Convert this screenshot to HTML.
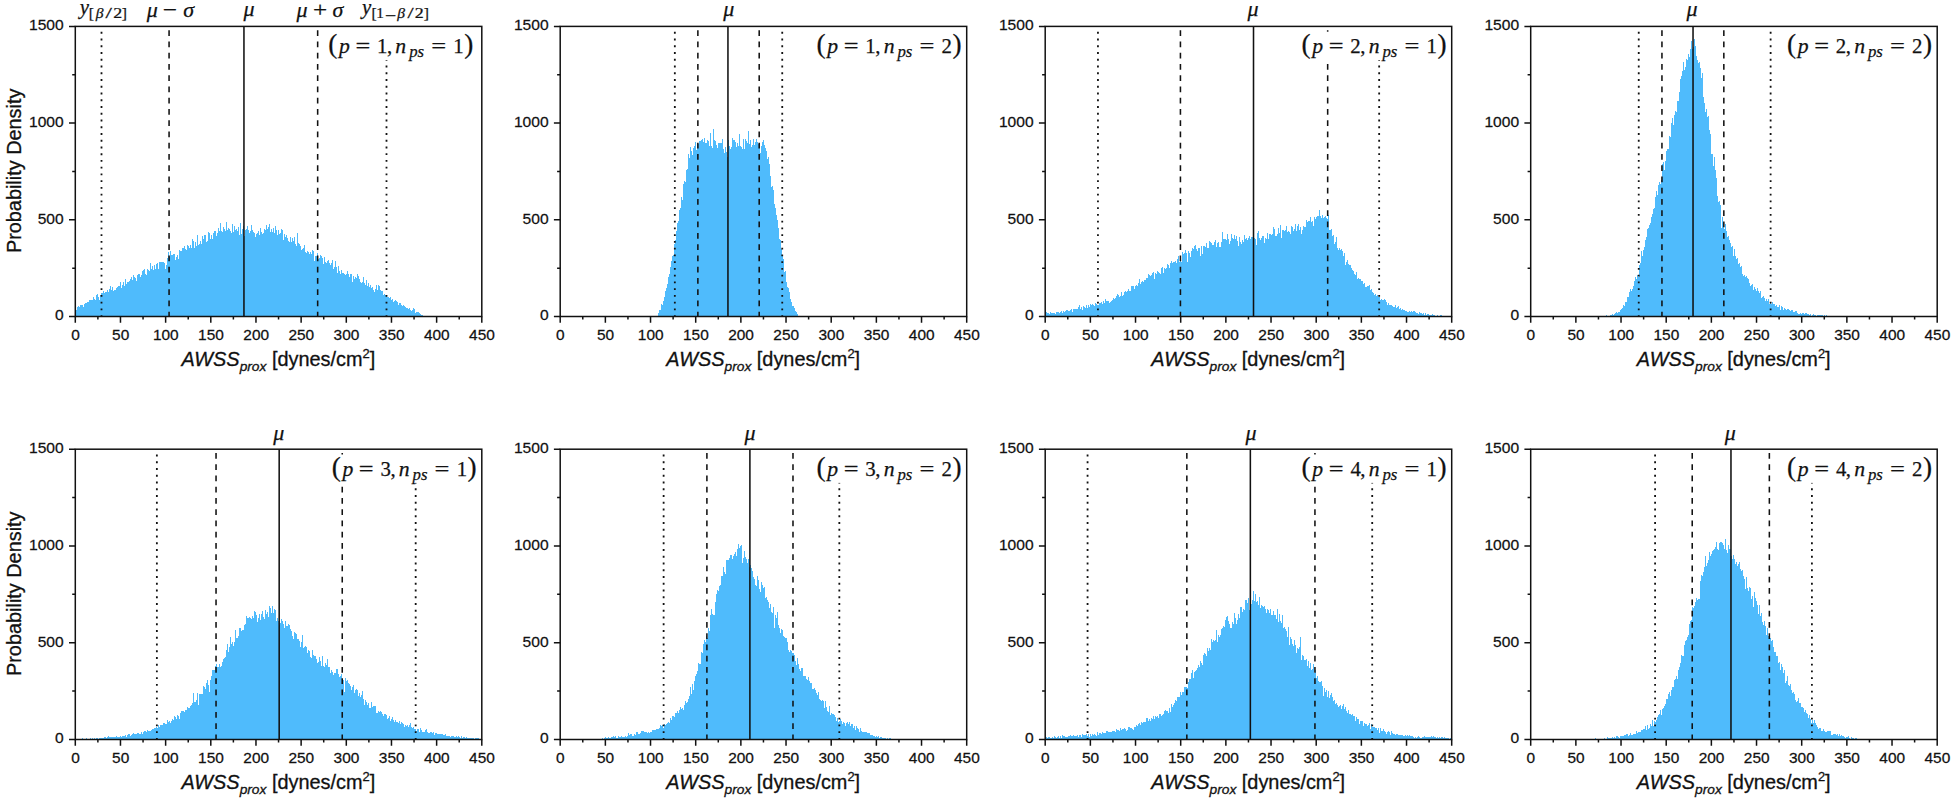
<!DOCTYPE html>
<html lang="en"><head><meta charset="utf-8"><title>AWSS probability density histograms</title>
<style>
html,body{margin:0;padding:0;background:#fff;}
body{width:1955px;height:803px;overflow:hidden;}
svg{display:block;}
text{fill:#111;}
.tk{font-family:"Liberation Sans",sans-serif;font-size:15.3px;stroke:#111;stroke-width:0.25px;}
.al{font-family:"Liberation Sans",sans-serif;font-size:19.8px;stroke:#111;stroke-width:0.3px;}
.mi{font-family:"Liberation Serif","DejaVu Serif",serif;font-style:italic;stroke:#111;stroke-width:0.25px;}
.mr{font-family:"Liberation Serif","DejaVu Serif",serif;font-style:normal;stroke:#111;stroke-width:0.25px;}
.ax{stroke:#111;stroke-width:1.5;fill:none;}
.ln{stroke:#111;stroke-width:1.55;fill:none;}
.dt{stroke:#111;stroke-width:1.8;fill:none;stroke-dasharray:1.9 4.846;}
.ds{stroke:#111;stroke-width:1.55;fill:none;stroke-dasharray:5.75 5.51;}
</style></head><body>
<svg width="1955" height="803" viewBox="0 0 1955 803">
<rect width="1955" height="803" fill="#fff"/>
<g>
<path d="M76 316.5V310.1H77V307.4H78V305.9H79V306.9H80V305.0H81V304.9H82V304.7H83V307.3H84V304.1H85V303.0H86V303.4H87V301.6H88V302.4H89V300.0H90V299.6H91V300.1H92V300.2H93V297.4H94V299.0H95V299.5H96V294.7H97V294.2H98V296.5H99V299.9H100V294.7H101V292.9H102V292.7H103V291.1H104V293.4H105V292.3H106V291.5H107V290.2H108V292.2H109V288.8H110V286.1H111V290.1H112V286.5H113V291.4H114V290.3H115V289.5H116V287.7H117V287.4H118V285.6H119V286.3H120V282.0H121V287.5H122V285.4H123V282.1H124V285.6H125V278.7H126V283.7H127V281.8H128V282.0H129V281.3H130V278.7H131V277.2H132V279.7H133V274.5H134V276.8H135V278.1H136V280.6H137V274.9H138V273.9H139V273.8H140V277.0H141V275.1H142V270.7H143V269.9H144V268.7H145V274.1H146V274.6H147V268.8H148V270.1H149V270.5H150V263.3H151V269.2H152V265.5H153V270.1H154V265.0H155V268.7H156V263.8H157V263.3H158V268.5H159V261.8H160V261.6H161V262.0H162V262.4H163V262.1H164V263.2H165V268.8H166V264.6H167V257.8H168V252.4H169V257.4H170V250.8H171V255.2H172V254.8H173V254.0H174V253.9H175V259.8H176V257.0H177V254.8H178V259.4H179V250.3H180V250.5H181V250.5H182V248.2H183V247.9H184V246.4H185V249.0H186V250.0H187V245.3H188V246.3H189V248.1H190V245.2H191V247.5H192V238.5H193V240.7H194V248.3H195V242.4H196V246.2H197V234.8H198V244.9H199V243.6H200V240.5H201V243.8H202V236.0H203V238.5H204V235.2H205V235.2H206V241.8H207V240.5H208V232.2H209V232.8H210V239.3H211V235.3H212V239.0H213V233.3H214V230.6H215V231.0H216V236.3H217V233.2H218V227.9H219V231.3H220V222.9H221V230.8H222V231.6H223V227.1H224V229.0H225V230.7H226V222.0H227V230.1H228V228.0H229V228.6H230V230.6H231V233.3H232V223.9H233V231.8H234V225.8H235V230.1H236V229.4H237V231.1H238V226.8H239V234.5H240V222.8H241V233.9H242V228.7H243V226.0H244V236.0H245V229.9H246V228.9H247V225.7H248V229.6H249V232.8H250V231.3H251V224.6H252V229.6H253V231.6H254V233.2H255V236.5H256V233.8H257V232.7H258V230.5H259V235.3H260V227.6H261V232.2H262V233.6H263V233.1H264V228.7H265V229.5H266V225.0H267V229.0H268V226.8H269V223.7H270V232.1H271V228.6H272V231.5H273V227.7H274V233.1H275V226.2H276V229.5H277V234.6H278V229.9H279V233.7H280V232.5H281V229.2H282V229.6H283V240.1H284V234.2H285V236.7H286V234.6H287V237.9H288V240.7H289V242.3H290V237.2H291V241.6H292V238.3H293V240.8H294V237.3H295V243.5H296V246.0H297V232.8H298V242.8H299V243.7H300V246.4H301V250.3H302V248.6H303V247.8H304V245.3H305V251.6H306V252.5H307V250.7H308V252.3H309V254.1H310V251.7H311V254.3H312V250.1H313V251.3H314V260.8H315V256.1H316V256.2H317V253.1H318V258.7H319V258.4H320V255.2H321V255.8H322V257.6H323V263.5H324V256.7H325V261.8H326V262.9H327V261.4H328V259.5H329V263.2H330V264.5H331V262.9H332V259.9H333V268.6H334V266.6H335V261.2H336V267.1H337V273.3H338V266.3H339V271.0H340V273.6H341V269.7H342V272.5H343V273.4H344V274.3H345V274.5H346V274.2H347V271.2H348V274.3H349V276.7H350V273.8H351V274.1H352V281.7H353V275.8H354V278.6H355V277.4H356V277.9H357V273.5H358V275.5H359V278.7H360V282.0H361V282.9H362V282.0H363V277.3H364V283.1H365V284.8H366V280.3H367V286.1H368V282.9H369V287.4H370V285.3H371V288.0H372V286.8H373V289.5H374V291.8H375V288.7H376V284.8H377V290.4H378V285.3H379V285.8H380V289.5H381V291.2H382V290.5H383V294.9H384V294.2H385V295.4H386V295.3H387V296.7H388V296.8H389V298.1H390V296.9H391V299.5H392V299.4H393V301.7H394V300.9H395V299.9H396V300.7H397V302.3H398V304.7H399V303.3H400V302.6H401V305.2H402V306.4H403V305.2H404V305.6H405V306.6H406V307.5H407V308.0H408V308.8H409V308.0H410V310.2H411V310.9H412V309.6H413V308.4H414V308.5H415V312.9H416V311.5H417V312.0H418V312.3H419V312.8H420V314.2H421V314.7H422V315.2H423V315.6H424V316.5H425V316.5H426V316.5H427V316.5H428V316.5H429V316.5H430V316.5H431V316.5H432V316.5H433V316.5H434V316.5H435V316.5H436V316.5H437V316.5H438V316.5H439V316.5H440V316.5H441V316.5H442V316.5H443V316.5H444V316.5H445V316.5H446V316.5H447V316.5H448V316.5H449V316.5H450V316.5H451V316.5H452V316.5H453V316.5H454V316.5H455V316.5H456V316.5H457V316.5H458V316.5H459V316.5H460V316.5H461V316.5H462V316.5H463V316.5H464V316.5H465V316.5H466V316.5H467V316.5H468V316.5H469V316.5H470V316.5H471V316.5H472V316.5H473V316.5H474V316.5H475V316.5H476V316.5H477V316.5H478V316.5H479V316.5H480V316.5H481V316.5Z" fill="#4fbbfc" shape-rendering="crispEdges"/>
<path class="dt" d="M101.5 31.8V316.5"/>
<path class="dt" d="M386.5 58.78V316.5"/>
<path class="ds" d="M169.07 30.2V316.5"/>
<path class="ds" d="M317.66 30.2V316.5"/>
<path class="ln" d="M243.95 26.4V316.5"/>
<rect x="328" y="31.7" width="146.2" height="28.4" fill="#fff"/>
<rect class="ax" x="75.3" y="26.4" width="406.5" height="290.1"/>
<path class="ax" d="M75.3 316.5v6.3M97.88 316.5v3.1M120.47 316.5v6.3M143.05 316.5v3.1M165.63 316.5v6.3M188.22 316.5v3.1M210.8 316.5v6.3M233.38 316.5v3.1M255.97 316.5v6.3M278.55 316.5v3.1M301.13 316.5v6.3M323.72 316.5v3.1M346.3 316.5v6.3M368.88 316.5v3.1M391.47 316.5v6.3M414.05 316.5v3.1M436.63 316.5v6.3M459.22 316.5v3.1M481.8 316.5v6.3M75.3 316.5h-6.3M75.3 268.15h-3.1M75.3 219.8h-6.3M75.3 171.45h-3.1M75.3 123.1h-6.3M75.3 74.75h-3.1M75.3 26.4h-6.3"/>
<text class="tk" transform="translate(75.5 339.6) scale(1.01 1)" text-anchor="middle">0</text>
<text class="tk" transform="translate(120.67 339.6) scale(1.01 1)" text-anchor="middle">50</text>
<text class="tk" transform="translate(165.83 339.6) scale(1.01 1)" text-anchor="middle">100</text>
<text class="tk" transform="translate(211 339.6) scale(1.01 1)" text-anchor="middle">150</text>
<text class="tk" transform="translate(256.17 339.6) scale(1.01 1)" text-anchor="middle">200</text>
<text class="tk" transform="translate(301.33 339.6) scale(1.01 1)" text-anchor="middle">250</text>
<text class="tk" transform="translate(346.5 339.6) scale(1.01 1)" text-anchor="middle">300</text>
<text class="tk" transform="translate(391.67 339.6) scale(1.01 1)" text-anchor="middle">350</text>
<text class="tk" transform="translate(436.83 339.6) scale(1.01 1)" text-anchor="middle">400</text>
<text class="tk" transform="translate(482 339.6) scale(1.01 1)" text-anchor="middle">450</text>
<text class="tk" transform="translate(63.7 320.3) scale(1.02 1)" text-anchor="end">0</text>
<text class="tk" transform="translate(63.7 223.6) scale(1.02 1)" text-anchor="end">500</text>
<text class="tk" transform="translate(63.7 126.9) scale(1.02 1)" text-anchor="end">1000</text>
<text class="tk" transform="translate(63.7 30.2) scale(1.02 1)" text-anchor="end">1500</text>
<text class="al" transform="translate(278.35 365.6) scale(1.005 1)" text-anchor="middle"><tspan font-style="italic">AWSS</tspan><tspan font-style="italic" font-size="13.7" dy="5">prox</tspan><tspan dy="-5"> [dynes/cm</tspan><tspan font-size="12.9" dy="-8">2</tspan><tspan dy="8">]</tspan></text>
<text class="al" transform="translate(21.4 170.85) rotate(-90) scale(1.004 1)" text-anchor="middle">Probability Density</text>
<text class="mi" font-size="22" x="243.6" y="16.3">μ</text>
<text class="mi" font-size="20.8" x="79.74" y="13.7">y</text>
<text class="mr" font-size="15.6" x="88.64" y="18.3">[</text>
<text class="mi" font-size="15.6" x="95.65" y="18.3">β</text>
<text class="mr" font-size="15.6" transform="translate(105.6 18.3) scale(1.48 1)">/</text>
<text class="mr" font-size="15.6" transform="translate(113.21 18.3) scale(1.15 1)">2</text>
<text class="mr" font-size="15.6" x="121.84" y="18.3">]</text>
<text class="mi" font-size="22" x="146.72" y="16.5">μ</text>
<text class="mr" font-size="22" transform="translate(162.84 16.5) scale(1.15 1)">−</text>
<text class="mi" font-size="22" x="183.14" y="16.5">σ</text>
<text class="mi" font-size="22" x="296.42" y="16.5">μ</text>
<text class="mr" font-size="22" transform="translate(313.05 16.5) scale(1.14 1)">+</text>
<text class="mi" font-size="22" x="332.54" y="16.5">σ</text>
<text class="mi" font-size="20.8" x="362.04" y="13.7">y</text>
<text class="mr" font-size="15.6" x="371.44" y="18.3">[</text>
<text class="mr" font-size="15.6" transform="translate(376.25 18.3) scale(0.98 1)">1</text>
<text class="mr" font-size="15.6" transform="translate(384.92 20.5) scale(1.27 1)">−</text>
<text class="mi" font-size="15.6" x="397.35" y="18.3">β</text>
<text class="mr" font-size="15.6" transform="translate(407.4 18.3) scale(1.41 1)">/</text>
<text class="mr" font-size="15.6" transform="translate(414.71 18.3) scale(1.15 1)">2</text>
<text class="mr" font-size="15.6" x="423.84" y="18.3">]</text>
<text class="mr" font-size="27.3" x="328.3" y="53.1">(</text>
<text class="mi" font-size="21.7" x="339.07" y="53.1">p</text>
<text class="mr" font-size="21.7" transform="translate(355.39 53.1) scale(1.21 1)">=</text>
<text class="mr" font-size="20.8" x="376.97" y="53.1">1</text>
<text class="mr" font-size="20.8" x="387.01" y="53.1">,</text>
<text class="mi" font-size="21.7" x="395.33" y="53.1">n</text>
<text class="mi" font-size="16.8" x="409.18" y="56.5">ps</text>
<text class="mr" font-size="21.7" transform="translate(431.18 53.1) scale(1.22 1)">=</text>
<text class="mr" font-size="20.8" x="453.27" y="53.1">1</text>
<text class="mr" font-size="27.3" x="464.22" y="53.1">)</text>
</g>
<g>
<path d="M657 316.5V315.9H658V313.4H659V310.0H660V309.6H661V304.4H662V304.5H663V301.1H664V297.2H665V290.9H666V287.8H667V284.4H668V277.4H669V274.4H670V266.7H671V260.5H672V256.0H673V254.9H674V244.0H675V239.8H676V230.7H677V223.3H678V220.9H679V209.9H680V208.4H681V196.9H682V199.5H683V184.4H684V180.9H685V182.3H686V169.8H687V169.1H688V154.0H689V157.8H690V146.9H691V150.9H692V155.0H693V147.9H694V146.4H695V142.1H696V150.2H697V143.1H698V143.8H699V140.5H700V140.7H701V140.1H702V138.7H703V142.2H704V138.3H705V143.0H706V143.1H707V140.1H708V140.7H709V145.5H710V132.5H711V145.7H712V148.0H713V128.6H714V139.9H715V140.5H716V144.8H717V148.0H718V143.4H719V143.1H720V143.3H721V143.4H722V139.1H723V149.0H724V152.7H725V146.9H726V152.3H727V156.9H728V139.8H729V145.5H730V148.6H731V147.0H732V137.7H733V139.6H734V139.9H735V141.6H736V146.7H737V142.9H738V146.1H739V134.0H740V146.4H741V147.4H742V148.6H743V138.7H744V148.6H745V139.3H746V140.6H747V142.5H748V131.4H749V143.7H750V139.5H751V146.7H752V145.0H753V138.8H754V145.1H755V142.2H756V139.4H757V142.0H758V144.1H759V142.8H760V152.5H761V146.0H762V141.5H763V139.7H764V144.9H765V148.0H766V150.6H767V159.3H768V157.2H769V163.5H770V176.1H771V186.9H772V185.6H773V189.5H774V203.5H775V208.3H776V215.2H777V220.1H778V228.1H779V238.9H780V239.6H781V249.3H782V254.6H783V258.5H784V271.5H785V271.1H786V281.6H787V286.6H788V288.1H789V291.8H790V298.5H791V302.2H792V306.1H793V306.4H794V307.8H795V310.8H796V312.2H797V314.2H798V316.2H799V316.5H800V316.5H801V316.5H802V316.5H803V316.5H804V316.5H805V316.5H806V316.5H807V316.5H808V316.5H809V316.5H810V316.5H811V316.5H812V316.5H813V316.5H814V316.5H815V316.5H816V316.5H817V316.5H818V316.5H819V316.5H820V316.5H821V316.5H822V316.5H823V316.5H824V316.5H825V316.5H826V316.5H827V316.5H828V316.5H829V316.5H830V316.5H831V316.5H832V316.5H833V316.5H834V316.5H835V316.5H836V316.5H837V316.5H838V316.5H839V316.5H840V316.5H841V316.5H842V316.5H843V316.5H844V316.5H845V316.5H846V316.5H847V316.5H848V316.5H849V316.5H850V316.5H851V316.5H852V316.5H853V316.5H854V316.5H855V316.5H856V316.5H857V316.5H858V316.5H859V316.5H860V316.5H861V316.5H862V316.5H863V316.5H864V316.5H865V316.5H866V316.5H867V316.5H868V316.5H869V316.5H870V316.5H871V316.5H872V316.5H873V316.5H874V316.5H875V316.5H876V316.5H877V316.5H878V316.5H879V316.5H880V316.5H881V316.5H882V316.5H883V316.5H884V316.5H885V316.5H886V316.5H887V316.5H888V316.5H889V316.5H890V316.5H891V316.5H892V316.5H893V316.5H894V316.5H895V316.5H896V316.5H897V316.5H898V316.5H899V316.5H900V316.5H901V316.5H902V316.5H903V316.5H904V316.5H905V316.5H906V316.5H907V316.5H908V316.5H909V316.5H910V316.5H911V316.5H912V316.5H913V316.5H914V316.5H915V316.5H916V316.5H917V316.5H918V316.5H919V316.5H920V316.5H921V316.5H922V316.5H923V316.5H924V316.5H925V316.5H926V316.5H927V316.5H928V316.5H929V316.5H930V316.5H931V316.5H932V316.5H933V316.5H934V316.5H935V316.5H936V316.5H937V316.5H938V316.5H939V316.5H940V316.5H941V316.5H942V316.5H943V316.5H944V316.5H945V316.5H946V316.5H947V316.5H948V316.5H949V316.5H950V316.5H951V316.5H952V316.5H953V316.5H954V316.5H955V316.5H956V316.5H957V316.5H958V316.5H959V316.5H960V316.5H961V316.5H962V316.5H963V316.5H964V316.5H965V316.5H966V316.5Z" fill="#4fbbfc" shape-rendering="crispEdges"/>
<path class="dt" d="M674.83 31.8V316.5"/>
<path class="dt" d="M782.24 31.8V316.5"/>
<path class="ds" d="M697.87 30.2V316.5"/>
<path class="ds" d="M759.2 30.2V316.5"/>
<path class="ln" d="M727.95 26.4V316.5"/>
<rect x="816.3" y="31.7" width="146.2" height="28.4" fill="#fff"/>
<rect class="ax" x="560.2" y="26.4" width="406.5" height="290.1"/>
<path class="ax" d="M560.2 316.5v6.3M582.78 316.5v3.1M605.37 316.5v6.3M627.95 316.5v3.1M650.53 316.5v6.3M673.12 316.5v3.1M695.7 316.5v6.3M718.28 316.5v3.1M740.87 316.5v6.3M763.45 316.5v3.1M786.03 316.5v6.3M808.62 316.5v3.1M831.2 316.5v6.3M853.78 316.5v3.1M876.37 316.5v6.3M898.95 316.5v3.1M921.53 316.5v6.3M944.12 316.5v3.1M966.7 316.5v6.3M560.2 316.5h-6.3M560.2 268.15h-3.1M560.2 219.8h-6.3M560.2 171.45h-3.1M560.2 123.1h-6.3M560.2 74.75h-3.1M560.2 26.4h-6.3"/>
<text class="tk" transform="translate(560.4 339.6) scale(1.01 1)" text-anchor="middle">0</text>
<text class="tk" transform="translate(605.57 339.6) scale(1.01 1)" text-anchor="middle">50</text>
<text class="tk" transform="translate(650.73 339.6) scale(1.01 1)" text-anchor="middle">100</text>
<text class="tk" transform="translate(695.9 339.6) scale(1.01 1)" text-anchor="middle">150</text>
<text class="tk" transform="translate(741.07 339.6) scale(1.01 1)" text-anchor="middle">200</text>
<text class="tk" transform="translate(786.23 339.6) scale(1.01 1)" text-anchor="middle">250</text>
<text class="tk" transform="translate(831.4 339.6) scale(1.01 1)" text-anchor="middle">300</text>
<text class="tk" transform="translate(876.57 339.6) scale(1.01 1)" text-anchor="middle">350</text>
<text class="tk" transform="translate(921.73 339.6) scale(1.01 1)" text-anchor="middle">400</text>
<text class="tk" transform="translate(966.9 339.6) scale(1.01 1)" text-anchor="middle">450</text>
<text class="tk" transform="translate(548.6 320.3) scale(1.02 1)" text-anchor="end">0</text>
<text class="tk" transform="translate(548.6 223.6) scale(1.02 1)" text-anchor="end">500</text>
<text class="tk" transform="translate(548.6 126.9) scale(1.02 1)" text-anchor="end">1000</text>
<text class="tk" transform="translate(548.6 30.2) scale(1.02 1)" text-anchor="end">1500</text>
<text class="al" transform="translate(763.25 365.6) scale(1.005 1)" text-anchor="middle"><tspan font-style="italic">AWSS</tspan><tspan font-style="italic" font-size="13.7" dy="5">prox</tspan><tspan dy="-5"> [dynes/cm</tspan><tspan font-size="12.9" dy="-8">2</tspan><tspan dy="8">]</tspan></text>
<text class="mi" font-size="22" x="723.35" y="16.3">μ</text>
<text class="mr" font-size="27.3" x="816.6" y="53.1">(</text>
<text class="mi" font-size="21.7" x="827.37" y="53.1">p</text>
<text class="mr" font-size="21.7" transform="translate(843.69 53.1) scale(1.21 1)">=</text>
<text class="mr" font-size="20.8" x="865.27" y="53.1">1</text>
<text class="mr" font-size="20.8" x="875.31" y="53.1">,</text>
<text class="mi" font-size="21.7" x="883.63" y="53.1">n</text>
<text class="mi" font-size="16.8" x="897.48" y="56.5">ps</text>
<text class="mr" font-size="21.7" transform="translate(919.48 53.1) scale(1.22 1)">=</text>
<text class="mr" font-size="20.8" x="941.49" y="53.1">2</text>
<text class="mr" font-size="27.3" x="952.52" y="53.1">)</text>
</g>
<g>
<path d="M1046 316.5V312.4H1047V312.7H1048V312.5H1049V313.7H1050V312.1H1051V312.6H1052V313.1H1053V313.2H1054V312.6H1055V314.0H1056V311.5H1057V312.3H1058V312.4H1059V312.7H1060V312.2H1061V310.8H1062V312.9H1063V311.3H1064V311.7H1065V311.1H1066V309.9H1067V310.4H1068V311.4H1069V311.0H1070V309.5H1071V308.6H1072V312.1H1073V309.2H1074V308.7H1075V309.1H1076V309.2H1077V308.6H1078V307.4H1079V304.7H1080V308.5H1081V307.2H1082V309.5H1083V305.7H1084V306.6H1085V307.6H1086V305.3H1087V308.1H1088V305.2H1089V306.5H1090V303.8H1091V304.6H1092V304.0H1093V305.1H1094V306.0H1095V303.0H1096V304.4H1097V305.1H1098V305.2H1099V302.6H1100V303.0H1101V302.3H1102V303.6H1103V300.5H1104V303.3H1105V299.2H1106V301.2H1107V300.6H1108V300.5H1109V303.0H1110V301.8H1111V301.1H1112V299.7H1113V298.4H1114V298.5H1115V297.8H1116V295.7H1117V294.4H1118V295.4H1119V296.8H1120V295.6H1121V292.1H1122V296.2H1123V295.0H1124V292.0H1125V290.8H1126V291.7H1127V290.8H1128V289.4H1129V290.9H1130V290.5H1131V285.9H1132V286.0H1133V285.8H1134V288.8H1135V286.3H1136V284.6H1137V285.9H1138V282.8H1139V279.2H1140V283.9H1141V282.3H1142V281.2H1143V281.5H1144V279.5H1145V280.0H1146V277.9H1147V278.0H1148V274.4H1149V274.5H1150V276.3H1151V275.1H1152V272.8H1153V271.7H1154V279.4H1155V273.3H1156V273.6H1157V271.0H1158V271.8H1159V272.5H1160V274.0H1161V268.0H1162V266.8H1163V272.6H1164V267.5H1165V268.9H1166V268.4H1167V264.3H1168V265.3H1169V267.7H1170V263.0H1171V261.1H1172V263.1H1173V262.3H1174V261.9H1175V261.0H1176V263.0H1177V258.8H1178V256.3H1179V261.7H1180V261.3H1181V261.7H1182V252.4H1183V254.0H1184V252.8H1185V249.5H1186V252.9H1187V262.0H1188V250.9H1189V252.9H1190V256.5H1191V251.3H1192V247.7H1193V248.5H1194V246.4H1195V244.7H1196V249.0H1197V251.4H1198V248.1H1199V248.2H1200V255.5H1201V245.7H1202V253.9H1203V245.9H1204V245.7H1205V246.5H1206V243.2H1207V248.3H1208V248.3H1209V241.1H1210V241.8H1211V242.7H1212V245.1H1213V244.5H1214V242.4H1215V240.3H1216V246.8H1217V243.2H1218V241.7H1219V247.2H1220V247.1H1221V241.8H1222V231.5H1223V238.8H1224V239.3H1225V239.4H1226V240.1H1227V233.7H1228V239.2H1229V244.1H1230V240.8H1231V234.2H1232V237.5H1233V238.6H1234V234.5H1235V238.6H1236V235.9H1237V240.6H1238V246.1H1239V236.9H1240V241.6H1241V244.0H1242V240.2H1243V241.6H1244V235.3H1245V239.2H1246V237.5H1247V239.9H1248V238.2H1249V236.3H1250V239.2H1251V237.4H1252V236.8H1253V237.1H1254V237.5H1255V238.9H1256V245.2H1257V232.5H1258V230.6H1259V237.6H1260V240.3H1261V238.2H1262V235.6H1263V235.9H1264V243.4H1265V237.7H1266V238.9H1267V233.0H1268V239.0H1269V233.6H1270V234.3H1271V235.4H1272V233.6H1273V226.6H1274V228.8H1275V236.0H1276V235.9H1277V233.9H1278V227.7H1279V232.8H1280V225.1H1281V237.7H1282V230.4H1283V230.2H1284V231.1H1285V229.9H1286V225.5H1287V232.4H1288V230.9H1289V231.7H1290V234.0H1291V226.2H1292V227.1H1293V231.3H1294V229.4H1295V224.3H1296V230.9H1297V226.3H1298V223.9H1299V229.9H1300V227.4H1301V234.4H1302V229.5H1303V225.6H1304V227.0H1305V227.0H1306V220.2H1307V222.1H1308V220.9H1309V220.8H1310V216.5H1311V221.6H1312V220.9H1313V225.6H1314V216.5H1315V219.1H1316V217.3H1317V215.8H1318V216.1H1319V209.7H1320V216.3H1321V217.7H1322V215.3H1323V218.2H1324V216.6H1325V215.7H1326V217.5H1327V218.8H1328V215.4H1329V230.3H1330V229.7H1331V229.4H1332V235.6H1333V235.3H1334V244.0H1335V241.6H1336V237.4H1337V247.8H1338V250.2H1339V248.3H1340V249.9H1341V249.1H1342V251.2H1343V256.0H1344V253.0H1345V264.6H1346V261.8H1347V259.9H1348V264.2H1349V265.2H1350V265.2H1351V268.1H1352V269.6H1353V270.6H1354V274.1H1355V275.0H1356V272.2H1357V279.1H1358V277.9H1359V279.4H1360V278.5H1361V281.0H1362V280.5H1363V284.0H1364V283.4H1365V286.9H1366V287.4H1367V285.7H1368V285.9H1369V284.5H1370V290.1H1371V289.3H1372V291.5H1373V292.6H1374V295.0H1375V294.4H1376V295.6H1377V294.7H1378V296.5H1379V296.6H1380V300.2H1381V298.7H1382V299.9H1383V300.3H1384V299.4H1385V300.4H1386V302.4H1387V304.9H1388V302.8H1389V304.7H1390V305.1H1391V305.0H1392V305.5H1393V307.1H1394V307.1H1395V305.3H1396V307.6H1397V306.6H1398V306.1H1399V308.8H1400V307.6H1401V309.8H1402V309.1H1403V309.6H1404V310.2H1405V310.7H1406V310.9H1407V311.6H1408V311.8H1409V310.7H1410V312.0H1411V310.6H1412V312.3H1413V311.1H1414V311.4H1415V311.9H1416V313.4H1417V313.2H1418V313.7H1419V312.1H1420V313.3H1421V313.2H1422V314.4H1423V313.1H1424V314.5H1425V313.4H1426V314.5H1427V313.8H1428V313.7H1429V314.6H1430V314.7H1431V315.0H1432V314.2H1433V314.5H1434V315.2H1435V315.7H1436V315.8H1437V315.4H1438V315.9H1439V315.6H1440V315.2H1441V314.9H1442V315.9H1443V316.4H1444V315.9H1445V316.5H1446V316.3H1447V316.2H1448V316.2H1449V316.3H1450V316.3H1451V316.5Z" fill="#4fbbfc" shape-rendering="crispEdges"/>
<path class="dt" d="M1097.95 31.8V316.5"/>
<path class="dt" d="M1379.16 58.78V316.5"/>
<path class="ds" d="M1180.43 30.2V316.5"/>
<path class="ds" d="M1327.67 30.2V316.5"/>
<path class="ln" d="M1253.51 26.4V316.5"/>
<rect x="1301.3" y="31.7" width="146.2" height="28.4" fill="#fff"/>
<rect class="ax" x="1045.2" y="26.4" width="406.5" height="290.1"/>
<path class="ax" d="M1045.2 316.5v6.3M1067.78 316.5v3.1M1090.37 316.5v6.3M1112.95 316.5v3.1M1135.53 316.5v6.3M1158.12 316.5v3.1M1180.7 316.5v6.3M1203.28 316.5v3.1M1225.87 316.5v6.3M1248.45 316.5v3.1M1271.03 316.5v6.3M1293.62 316.5v3.1M1316.2 316.5v6.3M1338.78 316.5v3.1M1361.37 316.5v6.3M1383.95 316.5v3.1M1406.53 316.5v6.3M1429.12 316.5v3.1M1451.7 316.5v6.3M1045.2 316.5h-6.3M1045.2 268.15h-3.1M1045.2 219.8h-6.3M1045.2 171.45h-3.1M1045.2 123.1h-6.3M1045.2 74.75h-3.1M1045.2 26.4h-6.3"/>
<text class="tk" transform="translate(1045.4 339.6) scale(1.01 1)" text-anchor="middle">0</text>
<text class="tk" transform="translate(1090.57 339.6) scale(1.01 1)" text-anchor="middle">50</text>
<text class="tk" transform="translate(1135.73 339.6) scale(1.01 1)" text-anchor="middle">100</text>
<text class="tk" transform="translate(1180.9 339.6) scale(1.01 1)" text-anchor="middle">150</text>
<text class="tk" transform="translate(1226.07 339.6) scale(1.01 1)" text-anchor="middle">200</text>
<text class="tk" transform="translate(1271.23 339.6) scale(1.01 1)" text-anchor="middle">250</text>
<text class="tk" transform="translate(1316.4 339.6) scale(1.01 1)" text-anchor="middle">300</text>
<text class="tk" transform="translate(1361.57 339.6) scale(1.01 1)" text-anchor="middle">350</text>
<text class="tk" transform="translate(1406.73 339.6) scale(1.01 1)" text-anchor="middle">400</text>
<text class="tk" transform="translate(1451.9 339.6) scale(1.01 1)" text-anchor="middle">450</text>
<text class="tk" transform="translate(1033.6 320.3) scale(1.02 1)" text-anchor="end">0</text>
<text class="tk" transform="translate(1033.6 223.6) scale(1.02 1)" text-anchor="end">500</text>
<text class="tk" transform="translate(1033.6 126.9) scale(1.02 1)" text-anchor="end">1000</text>
<text class="tk" transform="translate(1033.6 30.2) scale(1.02 1)" text-anchor="end">1500</text>
<text class="al" transform="translate(1248.25 365.6) scale(1.005 1)" text-anchor="middle"><tspan font-style="italic">AWSS</tspan><tspan font-style="italic" font-size="13.7" dy="5">prox</tspan><tspan dy="-5"> [dynes/cm</tspan><tspan font-size="12.9" dy="-8">2</tspan><tspan dy="8">]</tspan></text>
<text class="mi" font-size="22" x="1247.55" y="16.3">μ</text>
<text class="mr" font-size="27.3" x="1301.6" y="53.1">(</text>
<text class="mi" font-size="21.7" x="1312.37" y="53.1">p</text>
<text class="mr" font-size="21.7" transform="translate(1328.69 53.1) scale(1.21 1)">=</text>
<text class="mr" font-size="20.8" x="1350.19" y="53.1">2</text>
<text class="mr" font-size="20.8" x="1360.31" y="53.1">,</text>
<text class="mi" font-size="21.7" x="1368.63" y="53.1">n</text>
<text class="mi" font-size="16.8" x="1382.48" y="56.5">ps</text>
<text class="mr" font-size="21.7" transform="translate(1404.48 53.1) scale(1.22 1)">=</text>
<text class="mr" font-size="20.8" x="1426.57" y="53.1">1</text>
<text class="mr" font-size="27.3" x="1437.52" y="53.1">)</text>
</g>
<g>
<path d="M1603 316.5V316.4H1604V316.3H1605V316.1H1606V315.4H1607V315.5H1608V316.0H1609V315.6H1610V315.3H1611V315.3H1612V314.4H1613V314.7H1614V313.7H1615V313.1H1616V311.9H1617V313.0H1618V311.7H1619V312.4H1620V310.0H1621V309.0H1622V307.5H1623V305.2H1624V306.2H1625V301.8H1626V301.5H1627V296.5H1628V296.8H1629V291.9H1630V289.3H1631V290.7H1632V288.5H1633V286.1H1634V281.4H1635V276.5H1636V278.9H1637V275.3H1638V276.5H1639V265.0H1640V262.9H1641V250.9H1642V256.2H1643V250.4H1644V247.4H1645V240.0H1646V236.6H1647V228.5H1648V227.6H1649V224.6H1650V222.8H1651V216.5H1652V214.3H1653V208.7H1654V208.1H1655V196.8H1656V190.9H1657V194.9H1658V185.2H1659V181.8H1660V183.6H1661V180.1H1662V163.8H1663V161.5H1664V169.6H1665V160.8H1666V151.4H1667V149.2H1668V149.2H1669V136.1H1670V137.0H1671V122.7H1672V118.1H1673V125.3H1674V114.6H1675V111.1H1676V111.7H1677V100.7H1678V100.8H1679V92.2H1680V79.2H1681V75.5H1682V71.1H1683V61.8H1684V70.2H1685V67.0H1686V59.3H1687V60.2H1688V54.4H1689V56.8H1690V48.9H1691V40.6H1692V48.6H1693V46.5H1694V38.9H1695V46.4H1696V56.0H1697V60.3H1698V63.2H1699V62.2H1700V68.0H1701V78.3H1702V72.5H1703V96.6H1704V103.3H1705V112.1H1706V109.3H1707V116.7H1708V116.3H1709V130.1H1710V134.1H1711V154.3H1712V153.8H1713V166.3H1714V156.6H1715V170.2H1716V178.1H1717V195.7H1718V202.0H1719V200.8H1720V205.1H1721V228.2H1722V216.6H1723V223.2H1724V228.9H1725V224.2H1726V231.3H1727V236.7H1728V235.9H1729V239.7H1730V243.3H1731V246.6H1732V246.4H1733V255.8H1734V249.4H1735V255.6H1736V259.1H1737V258.2H1738V263.8H1739V262.7H1740V267.4H1741V266.4H1742V274.4H1743V275.5H1744V274.8H1745V276.8H1746V276.4H1747V278.4H1748V278.9H1749V282.8H1750V286.3H1751V285.0H1752V284.2H1753V289.5H1754V286.9H1755V289.1H1756V290.9H1757V288.0H1758V290.7H1759V293.2H1760V290.6H1761V298.2H1762V296.5H1763V296.2H1764V298.2H1765V300.6H1766V298.8H1767V301.2H1768V299.1H1769V303.6H1770V302.7H1771V304.1H1772V302.0H1773V303.6H1774V303.5H1775V306.3H1776V305.0H1777V307.0H1778V306.7H1779V305.1H1780V309.9H1781V306.1H1782V306.6H1783V310.2H1784V308.4H1785V309.3H1786V310.4H1787V309.1H1788V308.8H1789V309.8H1790V310.8H1791V310.0H1792V310.0H1793V311.5H1794V311.5H1795V310.5H1796V310.8H1797V313.4H1798V313.5H1799V313.7H1800V312.7H1801V313.9H1802V312.6H1803V312.7H1804V313.7H1805V313.3H1806V313.1H1807V313.7H1808V313.5H1809V315.2H1810V313.6H1811V315.8H1812V314.5H1813V313.9H1814V315.2H1815V314.6H1816V315.5H1817V314.6H1818V314.9H1819V314.6H1820V315.0H1821V315.3H1822V315.3H1823V316.2H1824V314.9H1825V315.7H1826V315.4H1827V316.1H1828V315.8H1829V316.0H1830V315.7H1831V316.2H1832V315.9H1833V316.2H1834V316.3H1835V316.2H1836V316.3H1837V316.2H1838V316.2H1839V316.4H1840V316.5H1841V316.5H1842V316.5H1843V316.5H1844V316.5H1845V316.5H1846V316.5H1847V316.5H1848V316.5H1849V316.5H1850V316.5H1851V316.5H1852V316.5H1853V316.5H1854V316.5H1855V316.5H1856V316.5H1857V316.5H1858V316.5H1859V316.5H1860V316.5H1861V316.5H1862V316.5H1863V316.5H1864V316.5H1865V316.5H1866V316.5H1867V316.5H1868V316.5H1869V316.5H1870V316.5H1871V316.5H1872V316.5H1873V316.5H1874V316.5H1875V316.5H1876V316.5H1877V316.5H1878V316.5H1879V316.5H1880V316.5H1881V316.5H1882V316.5H1883V316.5H1884V316.5H1885V316.5H1886V316.5H1887V316.5H1888V316.5H1889V316.5H1890V316.5H1891V316.5H1892V316.5H1893V316.5H1894V316.5H1895V316.5H1896V316.5H1897V316.5H1898V316.5H1899V316.5H1900V316.5H1901V316.5H1902V316.5H1903V316.5H1904V316.5H1905V316.5H1906V316.5H1907V316.5H1908V316.5H1909V316.5H1910V316.5H1911V316.5H1912V316.5H1913V316.5H1914V316.5H1915V316.5H1916V316.5H1917V316.5H1918V316.5H1919V316.5H1920V316.5H1921V316.5H1922V316.5H1923V316.5H1924V316.5H1925V316.5H1926V316.5H1927V316.5H1928V316.5H1929V316.5H1930V316.5H1931V316.5H1932V316.5H1933V316.5H1934V316.5H1935V316.5H1936V316.5H1937V316.5Z" fill="#4fbbfc" shape-rendering="crispEdges"/>
<path class="dt" d="M1638.74 31.8V316.5"/>
<path class="dt" d="M1770.63 31.8V316.5"/>
<path class="ds" d="M1661.95 30.2V316.5"/>
<path class="ds" d="M1723.83 30.2V316.5"/>
<path class="ln" d="M1693.03 26.4V316.5"/>
<rect x="1786.8" y="31.7" width="146.2" height="28.4" fill="#fff"/>
<rect class="ax" x="1530.7" y="26.4" width="406.5" height="290.1"/>
<path class="ax" d="M1530.7 316.5v6.3M1553.28 316.5v3.1M1575.87 316.5v6.3M1598.45 316.5v3.1M1621.03 316.5v6.3M1643.62 316.5v3.1M1666.2 316.5v6.3M1688.78 316.5v3.1M1711.37 316.5v6.3M1733.95 316.5v3.1M1756.53 316.5v6.3M1779.12 316.5v3.1M1801.7 316.5v6.3M1824.28 316.5v3.1M1846.87 316.5v6.3M1869.45 316.5v3.1M1892.03 316.5v6.3M1914.62 316.5v3.1M1937.2 316.5v6.3M1530.7 316.5h-6.3M1530.7 268.15h-3.1M1530.7 219.8h-6.3M1530.7 171.45h-3.1M1530.7 123.1h-6.3M1530.7 74.75h-3.1M1530.7 26.4h-6.3"/>
<text class="tk" transform="translate(1530.9 339.6) scale(1.01 1)" text-anchor="middle">0</text>
<text class="tk" transform="translate(1576.07 339.6) scale(1.01 1)" text-anchor="middle">50</text>
<text class="tk" transform="translate(1621.23 339.6) scale(1.01 1)" text-anchor="middle">100</text>
<text class="tk" transform="translate(1666.4 339.6) scale(1.01 1)" text-anchor="middle">150</text>
<text class="tk" transform="translate(1711.57 339.6) scale(1.01 1)" text-anchor="middle">200</text>
<text class="tk" transform="translate(1756.73 339.6) scale(1.01 1)" text-anchor="middle">250</text>
<text class="tk" transform="translate(1801.9 339.6) scale(1.01 1)" text-anchor="middle">300</text>
<text class="tk" transform="translate(1847.07 339.6) scale(1.01 1)" text-anchor="middle">350</text>
<text class="tk" transform="translate(1892.23 339.6) scale(1.01 1)" text-anchor="middle">400</text>
<text class="tk" transform="translate(1937.4 339.6) scale(1.01 1)" text-anchor="middle">450</text>
<text class="tk" transform="translate(1519.1 320.3) scale(1.02 1)" text-anchor="end">0</text>
<text class="tk" transform="translate(1519.1 223.6) scale(1.02 1)" text-anchor="end">500</text>
<text class="tk" transform="translate(1519.1 126.9) scale(1.02 1)" text-anchor="end">1000</text>
<text class="tk" transform="translate(1519.1 30.2) scale(1.02 1)" text-anchor="end">1500</text>
<text class="al" transform="translate(1733.75 365.6) scale(1.005 1)" text-anchor="middle"><tspan font-style="italic">AWSS</tspan><tspan font-style="italic" font-size="13.7" dy="5">prox</tspan><tspan dy="-5"> [dynes/cm</tspan><tspan font-size="12.9" dy="-8">2</tspan><tspan dy="8">]</tspan></text>
<text class="mi" font-size="22" x="1686.45" y="16.3">μ</text>
<text class="mr" font-size="27.3" x="1787.1" y="53.1">(</text>
<text class="mi" font-size="21.7" x="1797.87" y="53.1">p</text>
<text class="mr" font-size="21.7" transform="translate(1814.19 53.1) scale(1.21 1)">=</text>
<text class="mr" font-size="20.8" x="1835.69" y="53.1">2</text>
<text class="mr" font-size="20.8" x="1845.81" y="53.1">,</text>
<text class="mi" font-size="21.7" x="1854.13" y="53.1">n</text>
<text class="mi" font-size="16.8" x="1867.98" y="56.5">ps</text>
<text class="mr" font-size="21.7" transform="translate(1889.98 53.1) scale(1.22 1)">=</text>
<text class="mr" font-size="20.8" x="1911.99" y="53.1">2</text>
<text class="mr" font-size="27.3" x="1923.02" y="53.1">)</text>
</g>
<g>
<path d="M76 739.5V739.2H77V738.8H78V739.1H79V738.7H80V738.7H81V739.5H82V738.2H83V738.8H84V739.1H85V738.7H86V738.3H87V738.8H88V739.1H89V738.6H90V738.2H91V738.5H92V738.2H93V738.6H94V738.2H95V738.6H96V737.8H97V737.6H98V738.8H99V738.2H100V738.2H101V738.1H102V738.2H103V737.6H104V737.0H105V736.7H106V737.5H107V737.2H108V736.4H109V736.5H110V737.4H111V737.1H112V736.5H113V736.6H114V737.3H115V737.1H116V736.0H117V736.9H118V736.8H119V737.0H120V736.4H121V736.7H122V736.3H123V735.9H124V736.1H125V735.2H126V736.9H127V735.0H128V734.3H129V734.4H130V736.4H131V735.0H132V734.3H133V733.4H134V733.9H135V733.9H136V734.1H137V733.4H138V733.1H139V734.4H140V733.5H141V731.6H142V733.5H143V731.7H144V730.9H145V731.1H146V731.9H147V730.1H148V730.8H149V730.5H150V730.5H151V730.4H152V728.6H153V728.7H154V727.9H155V727.8H156V726.7H157V727.9H158V725.1H159V727.2H160V725.0H161V725.3H162V725.3H163V722.6H164V723.3H165V724.4H166V723.6H167V720.4H168V721.5H169V720.9H170V722.6H171V721.0H172V718.6H173V719.5H174V716.4H175V717.0H176V719.2H177V715.0H178V715.7H179V718.7H180V712.6H181V710.9H182V711.2H183V711.1H184V712.1H185V709.6H186V709.7H187V707.1H188V707.9H189V707.7H190V705.5H191V705.0H192V703.3H193V693.0H194V701.7H195V701.8H196V699.5H197V693.2H198V705.3H199V694.2H200V693.7H201V693.7H202V694.1H203V686.1H204V687.0H205V689.3H206V682.6H207V680.3H208V685.0H209V691.7H210V679.8H211V676.1H212V670.1H213V669.9H214V669.7H215V666.3H216V663.7H217V667.1H218V666.6H219V663.7H220V666.9H221V666.0H222V662.2H223V659.3H224V658.2H225V657.0H226V650.1H227V644.1H228V651.7H229V646.5H230V636.5H231V644.4H232V641.9H233V646.0H234V641.9H235V630.4H236V637.5H237V638.0H238V636.4H239V627.8H240V628.4H241V631.1H242V630.3H243V629.6H244V624.7H245V623.8H246V616.3H247V617.9H248V618.2H249V616.9H250V617.5H251V619.2H252V615.9H253V618.0H254V611.2H255V612.3H256V614.5H257V621.7H258V618.2H259V613.7H260V619.6H261V614.1H262V610.8H263V617.3H264V619.3H265V610.3H266V614.4H267V612.2H268V616.7H269V606.4H270V608.3H271V613.4H272V606.0H273V613.0H274V608.8H275V610.2H276V621.4H277V618.0H278V621.1H279V624.7H280V623.4H281V618.5H282V620.7H283V624.3H284V627.5H285V620.9H286V625.7H287V625.5H288V624.0H289V624.7H290V628.9H291V630.6H292V635.7H293V639.3H294V631.8H295V632.5H296V634.2H297V638.9H298V639.3H299V641.0H300V647.0H301V642.1H302V634.9H303V648.0H304V647.4H305V646.3H306V647.4H307V653.2H308V650.2H309V651.3H310V656.8H311V657.8H312V650.3H313V654.7H314V655.7H315V655.9H316V659.4H317V662.6H318V661.7H319V657.1H320V660.7H321V665.7H322V656.0H323V666.2H324V666.7H325V663.3H326V664.7H327V659.1H328V666.5H329V666.8H330V673.4H331V670.1H332V671.9H333V674.5H334V672.8H335V672.8H336V668.6H337V668.8H338V674.1H339V677.1H340V675.7H341V673.6H342V681.7H343V679.7H344V691.9H345V678.2H346V680.6H347V679.5H348V683.3H349V683.6H350V685.7H351V690.0H352V686.9H353V684.5H354V692.6H355V689.9H356V688.5H357V689.7H358V695.5H359V693.0H360V696.7H361V695.4H362V691.0H363V699.4H364V704.9H365V700.0H366V701.9H367V704.7H368V703.1H369V708.4H370V708.0H371V701.9H372V707.1H373V705.5H374V706.4H375V706.0H376V712.8H377V712.5H378V710.8H379V711.8H380V710.7H381V712.0H382V713.8H383V716.4H384V713.9H385V713.7H386V714.9H387V718.8H388V717.6H389V715.5H390V720.6H391V718.9H392V717.4H393V720.1H394V722.1H395V720.2H396V721.9H397V722.4H398V723.0H399V721.0H400V724.1H401V721.7H402V723.4H403V724.1H404V726.8H405V724.9H406V725.8H407V724.9H408V726.6H409V725.1H410V723.1H411V727.1H412V727.5H413V726.7H414V728.6H415V728.8H416V731.3H417V729.2H418V729.3H419V731.5H420V728.2H421V730.2H422V731.6H423V732.4H424V732.4H425V729.7H426V729.2H427V731.5H428V733.2H429V732.6H430V731.5H431V732.2H432V732.6H433V731.9H434V734.7H435V733.3H436V733.3H437V734.3H438V734.0H439V733.6H440V734.2H441V734.1H442V734.2H443V734.9H444V735.2H445V734.4H446V735.7H447V736.3H448V735.7H449V735.9H450V737.2H451V736.1H452V735.8H453V735.8H454V736.8H455V736.5H456V736.1H457V737.3H458V736.3H459V737.4H460V738.3H461V736.1H462V737.5H463V736.7H464V736.8H465V737.9H466V736.8H467V737.6H468V738.4H469V738.2H470V737.9H471V738.2H472V738.0H473V738.3H474V738.8H475V737.7H476V738.3H477V737.9H478V738.3H479V738.8H480V738.6H481V739.5Z" fill="#4fbbfc" shape-rendering="crispEdges"/>
<path class="dt" d="M156.87 454.6V739.5"/>
<path class="dt" d="M415.68 481.58V739.5"/>
<path class="ds" d="M216.04 453V739.5"/>
<path class="ds" d="M342.24 453V739.5"/>
<path class="ln" d="M279.18 449.2V739.5"/>
<rect x="331.4" y="454.5" width="146.2" height="28.4" fill="#fff"/>
<rect class="ax" x="75.3" y="449.2" width="406.5" height="290.3"/>
<path class="ax" d="M75.3 739.5v6.3M97.88 739.5v3.1M120.47 739.5v6.3M143.05 739.5v3.1M165.63 739.5v6.3M188.22 739.5v3.1M210.8 739.5v6.3M233.38 739.5v3.1M255.97 739.5v6.3M278.55 739.5v3.1M301.13 739.5v6.3M323.72 739.5v3.1M346.3 739.5v6.3M368.88 739.5v3.1M391.47 739.5v6.3M414.05 739.5v3.1M436.63 739.5v6.3M459.22 739.5v3.1M481.8 739.5v6.3M75.3 739.5h-6.3M75.3 691.12h-3.1M75.3 642.73h-6.3M75.3 594.35h-3.1M75.3 545.97h-6.3M75.3 497.58h-3.1M75.3 449.2h-6.3"/>
<text class="tk" transform="translate(75.5 762.6) scale(1.01 1)" text-anchor="middle">0</text>
<text class="tk" transform="translate(120.67 762.6) scale(1.01 1)" text-anchor="middle">50</text>
<text class="tk" transform="translate(165.83 762.6) scale(1.01 1)" text-anchor="middle">100</text>
<text class="tk" transform="translate(211 762.6) scale(1.01 1)" text-anchor="middle">150</text>
<text class="tk" transform="translate(256.17 762.6) scale(1.01 1)" text-anchor="middle">200</text>
<text class="tk" transform="translate(301.33 762.6) scale(1.01 1)" text-anchor="middle">250</text>
<text class="tk" transform="translate(346.5 762.6) scale(1.01 1)" text-anchor="middle">300</text>
<text class="tk" transform="translate(391.67 762.6) scale(1.01 1)" text-anchor="middle">350</text>
<text class="tk" transform="translate(436.83 762.6) scale(1.01 1)" text-anchor="middle">400</text>
<text class="tk" transform="translate(482 762.6) scale(1.01 1)" text-anchor="middle">450</text>
<text class="tk" transform="translate(63.7 743.3) scale(1.02 1)" text-anchor="end">0</text>
<text class="tk" transform="translate(63.7 646.53) scale(1.02 1)" text-anchor="end">500</text>
<text class="tk" transform="translate(63.7 549.77) scale(1.02 1)" text-anchor="end">1000</text>
<text class="tk" transform="translate(63.7 453) scale(1.02 1)" text-anchor="end">1500</text>
<text class="al" transform="translate(278.35 788.6) scale(1.005 1)" text-anchor="middle"><tspan font-style="italic">AWSS</tspan><tspan font-style="italic" font-size="13.7" dy="5">prox</tspan><tspan dy="-5"> [dynes/cm</tspan><tspan font-size="12.9" dy="-8">2</tspan><tspan dy="8">]</tspan></text>
<text class="al" transform="translate(21.4 593.75) rotate(-90) scale(1.004 1)" text-anchor="middle">Probability Density</text>
<text class="mi" font-size="22" x="273.35" y="440.2">μ</text>
<text class="mr" font-size="27.3" x="331.7" y="476.3">(</text>
<text class="mi" font-size="21.7" x="342.47" y="476.3">p</text>
<text class="mr" font-size="21.7" transform="translate(358.79 476.3) scale(1.21 1)">=</text>
<text class="mr" font-size="20.8" x="380.4" y="476.3">3</text>
<text class="mr" font-size="20.8" x="390.41" y="476.3">,</text>
<text class="mi" font-size="21.7" x="398.73" y="476.3">n</text>
<text class="mi" font-size="16.8" x="412.58" y="479.7">ps</text>
<text class="mr" font-size="21.7" transform="translate(434.58 476.3) scale(1.22 1)">=</text>
<text class="mr" font-size="20.8" x="456.67" y="476.3">1</text>
<text class="mr" font-size="27.3" x="467.62" y="476.3">)</text>
</g>
<g>
<path d="M578 739.5V739.5H579V739.4H580V739.5H581V739.5H582V739.3H583V739.2H584V739.5H585V739.3H586V738.9H587V738.8H588V738.8H589V739.0H590V738.9H591V739.1H592V738.5H593V739.3H594V738.9H595V738.7H596V738.8H597V739.2H598V738.7H599V738.7H600V738.9H601V738.7H602V738.3H603V738.6H604V737.6H605V737.2H606V738.4H607V737.9H608V737.0H609V738.0H610V737.9H611V737.2H612V737.4H613V736.3H614V736.9H615V736.3H616V737.6H617V738.0H618V735.6H619V736.7H620V737.1H621V735.9H622V736.5H623V737.3H624V736.9H625V735.9H626V736.9H627V736.4H628V733.4H629V735.1H630V734.4H631V734.1H632V735.7H633V735.9H634V734.0H635V735.4H636V731.8H637V731.8H638V733.7H639V734.4H640V733.1H641V731.4H642V731.3H643V731.2H644V731.8H645V732.4H646V732.2H647V732.7H648V731.5H649V733.0H650V732.4H651V731.8H652V729.7H653V729.9H654V729.9H655V730.4H656V729.1H657V729.0H658V728.8H659V728.0H660V724.7H661V725.8H662V724.5H663V727.6H664V724.0H665V724.7H666V724.4H667V723.0H668V722.0H669V722.5H670V718.3H671V719.7H672V715.9H673V716.3H674V716.5H675V712.7H676V713.1H677V711.2H678V713.2H679V709.6H680V706.5H681V709.1H682V708.1H683V710.2H684V704.6H685V700.9H686V702.5H687V701.5H688V698.8H689V695.6H690V686.9H691V693.7H692V684.1H693V689.6H694V680.6H695V676.4H696V673.7H697V670.5H698V662.7H699V663.8H700V663.8H701V652.2H702V653.4H703V643.6H704V640.2H705V642.4H706V635.6H707V638.0H708V628.1H709V631.0H710V614.5H711V609.1H712V613.5H713V614.5H714V615.4H715V602.0H716V593.9H717V590.2H718V591.1H719V585.7H720V585.2H721V575.7H722V575.7H723V567.3H724V571.8H725V574.3H726V559.7H727V560.4H728V559.8H729V558.1H730V554.8H731V554.6H732V558.7H733V556.1H734V554.4H735V552.2H736V556.1H737V548.6H738V544.3H739V548.1H740V545.7H741V545.4H742V563.0H743V558.4H744V550.7H745V557.4H746V558.9H747V563.4H748V559.4H749V567.0H750V564.5H751V568.0H752V570.9H753V576.5H754V578.7H755V585.3H756V585.7H757V576.3H758V579.6H759V589.1H760V592.2H761V581.6H762V584.7H763V588.3H764V586.6H765V597.7H766V596.8H767V600.0H768V601.9H769V607.6H770V603.5H771V611.5H772V612.8H773V606.9H774V627.8H775V614.5H776V617.6H777V611.9H778V624.9H779V628.2H780V633.0H781V629.3H782V630.1H783V636.3H784V636.5H785V638.4H786V637.8H787V642.2H788V650.1H789V652.3H790V650.0H791V651.1H792V653.3H793V652.8H794V655.3H795V660.7H796V665.2H797V657.9H798V664.1H799V668.9H800V670.9H801V668.0H802V668.2H803V676.0H804V675.8H805V676.0H806V678.8H807V679.8H808V677.2H809V681.3H810V682.7H811V683.4H812V689.2H813V688.5H814V688.3H815V690.3H816V693.2H817V695.0H818V692.4H819V699.1H820V699.6H821V700.9H822V699.9H823V700.7H824V707.8H825V701.4H826V706.9H827V710.6H828V711.7H829V705.9H830V715.3H831V712.9H832V713.7H833V714.4H834V715.3H835V716.7H836V720.5H837V717.5H838V722.4H839V721.2H840V719.1H841V721.0H842V723.8H843V722.3H844V722.9H845V725.6H846V722.8H847V722.1H848V723.7H849V722.2H850V725.6H851V724.3H852V723.8H853V727.8H854V726.0H855V729.9H856V726.1H857V728.4H858V728.7H859V732.1H860V728.3H861V730.6H862V731.7H863V731.6H864V731.7H865V732.0H866V732.2H867V733.0H868V732.6H869V732.9H870V735.2H871V734.9H872V734.8H873V736.0H874V736.1H875V736.5H876V736.3H877V737.1H878V736.1H879V738.2H880V737.0H881V737.0H882V738.1H883V737.5H884V738.0H885V738.4H886V738.5H887V738.4H888V738.6H889V738.3H890V738.3H891V738.9H892V739.1H893V738.5H894V738.7H895V739.5H896V738.8H897V739.5H898V739.2H899V739.4H900V739.3H901V739.4H902V739.5H903V739.5H904V739.5H905V739.5H906V739.5H907V739.5H908V739.5H909V739.5H910V739.5H911V739.5H912V739.5H913V739.5H914V739.5H915V739.5H916V739.5H917V739.5H918V739.5H919V739.5H920V739.5H921V739.5H922V739.5H923V739.5H924V739.5H925V739.5H926V739.5H927V739.5H928V739.5H929V739.5H930V739.5H931V739.5H932V739.5H933V739.5H934V739.5H935V739.5H936V739.5H937V739.5H938V739.5H939V739.5H940V739.5H941V739.5H942V739.5H943V739.5H944V739.5H945V739.5H946V739.5H947V739.5H948V739.5H949V739.5H950V739.5H951V739.5H952V739.5H953V739.5H954V739.5H955V739.5H956V739.5H957V739.5H958V739.5H959V739.5H960V739.5H961V739.5H962V739.5H963V739.5H964V739.5H965V739.5H966V739.5Z" fill="#4fbbfc" shape-rendering="crispEdges"/>
<path class="dt" d="M663.63 454.6V739.5"/>
<path class="dt" d="M839.33 481.58V739.5"/>
<path class="ds" d="M706.9 453V739.5"/>
<path class="ds" d="M792.99 453V739.5"/>
<path class="ln" d="M749.9 449.2V739.5"/>
<rect x="816.3" y="454.5" width="146.2" height="28.4" fill="#fff"/>
<rect class="ax" x="560.2" y="449.2" width="406.5" height="290.3"/>
<path class="ax" d="M560.2 739.5v6.3M582.78 739.5v3.1M605.37 739.5v6.3M627.95 739.5v3.1M650.53 739.5v6.3M673.12 739.5v3.1M695.7 739.5v6.3M718.28 739.5v3.1M740.87 739.5v6.3M763.45 739.5v3.1M786.03 739.5v6.3M808.62 739.5v3.1M831.2 739.5v6.3M853.78 739.5v3.1M876.37 739.5v6.3M898.95 739.5v3.1M921.53 739.5v6.3M944.12 739.5v3.1M966.7 739.5v6.3M560.2 739.5h-6.3M560.2 691.12h-3.1M560.2 642.73h-6.3M560.2 594.35h-3.1M560.2 545.97h-6.3M560.2 497.58h-3.1M560.2 449.2h-6.3"/>
<text class="tk" transform="translate(560.4 762.6) scale(1.01 1)" text-anchor="middle">0</text>
<text class="tk" transform="translate(605.57 762.6) scale(1.01 1)" text-anchor="middle">50</text>
<text class="tk" transform="translate(650.73 762.6) scale(1.01 1)" text-anchor="middle">100</text>
<text class="tk" transform="translate(695.9 762.6) scale(1.01 1)" text-anchor="middle">150</text>
<text class="tk" transform="translate(741.07 762.6) scale(1.01 1)" text-anchor="middle">200</text>
<text class="tk" transform="translate(786.23 762.6) scale(1.01 1)" text-anchor="middle">250</text>
<text class="tk" transform="translate(831.4 762.6) scale(1.01 1)" text-anchor="middle">300</text>
<text class="tk" transform="translate(876.57 762.6) scale(1.01 1)" text-anchor="middle">350</text>
<text class="tk" transform="translate(921.73 762.6) scale(1.01 1)" text-anchor="middle">400</text>
<text class="tk" transform="translate(966.9 762.6) scale(1.01 1)" text-anchor="middle">450</text>
<text class="tk" transform="translate(548.6 743.3) scale(1.02 1)" text-anchor="end">0</text>
<text class="tk" transform="translate(548.6 646.53) scale(1.02 1)" text-anchor="end">500</text>
<text class="tk" transform="translate(548.6 549.77) scale(1.02 1)" text-anchor="end">1000</text>
<text class="tk" transform="translate(548.6 453) scale(1.02 1)" text-anchor="end">1500</text>
<text class="al" transform="translate(763.25 788.6) scale(1.005 1)" text-anchor="middle"><tspan font-style="italic">AWSS</tspan><tspan font-style="italic" font-size="13.7" dy="5">prox</tspan><tspan dy="-5"> [dynes/cm</tspan><tspan font-size="12.9" dy="-8">2</tspan><tspan dy="8">]</tspan></text>
<text class="mi" font-size="22" x="744.55" y="440.2">μ</text>
<text class="mr" font-size="27.3" x="816.6" y="476.3">(</text>
<text class="mi" font-size="21.7" x="827.37" y="476.3">p</text>
<text class="mr" font-size="21.7" transform="translate(843.69 476.3) scale(1.21 1)">=</text>
<text class="mr" font-size="20.8" x="865.3" y="476.3">3</text>
<text class="mr" font-size="20.8" x="875.31" y="476.3">,</text>
<text class="mi" font-size="21.7" x="883.63" y="476.3">n</text>
<text class="mi" font-size="16.8" x="897.48" y="479.7">ps</text>
<text class="mr" font-size="21.7" transform="translate(919.48 476.3) scale(1.22 1)">=</text>
<text class="mr" font-size="20.8" x="941.49" y="476.3">2</text>
<text class="mr" font-size="27.3" x="952.52" y="476.3">)</text>
</g>
<g>
<path d="M1046 739.5V736.6H1047V738.0H1048V737.2H1049V737.0H1050V737.9H1051V737.5H1052V736.9H1053V737.6H1054V736.0H1055V736.8H1056V737.6H1057V736.6H1058V735.6H1059V737.6H1060V736.1H1061V737.8H1062V735.4H1063V735.8H1064V736.4H1065V736.6H1066V737.3H1067V736.5H1068V736.0H1069V736.1H1070V735.3H1071V736.1H1072V735.7H1073V735.1H1074V735.5H1075V735.8H1076V735.9H1077V734.9H1078V736.8H1079V735.3H1080V735.1H1081V736.9H1082V734.4H1083V735.0H1084V735.1H1085V735.4H1086V733.9H1087V736.1H1088V733.6H1089V736.5H1090V734.2H1091V735.6H1092V733.7H1093V734.9H1094V734.2H1095V734.9H1096V735.5H1097V732.4H1098V734.6H1099V732.7H1100V733.3H1101V733.8H1102V732.4H1103V732.7H1104V733.1H1105V732.6H1106V731.3H1107V730.8H1108V732.2H1109V731.9H1110V731.7H1111V731.7H1112V730.5H1113V731.2H1114V731.0H1115V732.1H1116V728.9H1117V729.8H1118V729.5H1119V730.6H1120V728.1H1121V730.4H1122V728.8H1123V728.7H1124V728.4H1125V728.8H1126V730.5H1127V730.4H1128V727.1H1129V726.8H1130V728.4H1131V727.8H1132V728.7H1133V729.7H1134V727.3H1135V726.7H1136V725.0H1137V726.4H1138V723.5H1139V723.0H1140V724.7H1141V721.5H1142V722.6H1143V721.7H1144V721.7H1145V721.5H1146V718.1H1147V718.3H1148V721.4H1149V719.0H1150V720.6H1151V717.9H1152V718.9H1153V716.4H1154V719.2H1155V716.3H1156V716.5H1157V716.3H1158V717.8H1159V713.9H1160V713.9H1161V716.1H1162V715.1H1163V713.8H1164V710.6H1165V709.6H1166V711.0H1167V711.1H1168V712.5H1169V707.8H1170V711.5H1171V703.6H1172V706.6H1173V704.6H1174V703.3H1175V700.4H1176V701.1H1177V697.4H1178V696.7H1179V696.6H1180V692.4H1181V695.3H1182V692.1H1183V692.2H1184V686.9H1185V686.8H1186V686.7H1187V688.4H1188V682.1H1189V678.5H1190V678.7H1191V672.6H1192V669.6H1193V677.5H1194V672.0H1195V671.0H1196V670.4H1197V667.9H1198V664.9H1199V666.8H1200V661.4H1201V662.5H1202V664.6H1203V654.9H1204V652.9H1205V653.6H1206V655.9H1207V648.4H1208V651.4H1209V647.9H1210V649.5H1211V639.2H1212V642.0H1213V639.5H1214V640.5H1215V639.6H1216V629.9H1217V641.5H1218V635.0H1219V637.1H1220V634.7H1221V628.6H1222V627.5H1223V625.9H1224V626.5H1225V620.0H1226V617.2H1227V615.5H1228V620.9H1229V624.3H1230V627.7H1231V628.0H1232V622.2H1233V624.4H1234V613.1H1235V617.9H1236V623.6H1237V620.1H1238V613.5H1239V618.0H1240V606.9H1241V606.6H1242V612.2H1243V609.4H1244V609.9H1245V600.3H1246V600.1H1247V602.6H1248V598.2H1249V609.8H1250V600.3H1251V604.3H1252V599.7H1253V590.5H1254V601.2H1255V594.3H1256V601.9H1257V601.3H1258V605.4H1259V596.8H1260V608.0H1261V605.3H1262V606.1H1263V607.2H1264V606.2H1265V608.6H1266V613.4H1267V609.2H1268V609.7H1269V613.2H1270V608.8H1271V614.8H1272V614.5H1273V611.1H1274V615.4H1275V615.0H1276V618.9H1277V609.3H1278V622.2H1279V614.4H1280V620.9H1281V622.8H1282V614.8H1283V628.1H1284V626.5H1285V628.6H1286V630.9H1287V636.6H1288V626.9H1289V645.0H1290V637.0H1291V638.9H1292V644.0H1293V645.7H1294V639.9H1295V645.3H1296V653.4H1297V648.0H1298V648.5H1299V647.1H1300V636.5H1301V659.6H1302V654.7H1303V655.7H1304V659.5H1305V659.6H1306V659.2H1307V666.0H1308V661.1H1309V667.5H1310V663.4H1311V670.3H1312V668.8H1313V663.9H1314V673.3H1315V669.7H1316V677.8H1317V675.7H1318V681.0H1319V682.3H1320V681.8H1321V681.3H1322V686.4H1323V696.2H1324V687.5H1325V691.8H1326V689.7H1327V696.8H1328V690.6H1329V697.8H1330V695.1H1331V693.3H1332V697.2H1333V701.0H1334V700.4H1335V703.6H1336V703.2H1337V704.8H1338V706.8H1339V706.2H1340V704.9H1341V708.9H1342V706.0H1343V704.1H1344V709.1H1345V706.5H1346V711.4H1347V713.0H1348V710.3H1349V713.7H1350V714.0H1351V715.1H1352V713.5H1353V716.3H1354V716.2H1355V720.6H1356V716.5H1357V718.6H1358V719.3H1359V724.3H1360V721.3H1361V721.0H1362V720.8H1363V726.3H1364V722.8H1365V723.9H1366V723.6H1367V726.3H1368V724.9H1369V723.3H1370V728.7H1371V724.4H1372V726.9H1373V727.1H1374V727.1H1375V727.5H1376V728.2H1377V730.3H1378V727.5H1379V732.8H1380V728.3H1381V731.0H1382V731.3H1383V728.5H1384V730.7H1385V731.7H1386V733.6H1387V732.3H1388V731.3H1389V731.7H1390V735.1H1391V731.2H1392V733.2H1393V733.5H1394V733.5H1395V734.8H1396V733.9H1397V734.2H1398V734.6H1399V735.1H1400V734.6H1401V734.5H1402V734.8H1403V736.1H1404V735.6H1405V734.5H1406V735.5H1407V734.9H1408V736.0H1409V734.7H1410V735.6H1411V735.8H1412V735.9H1413V737.4H1414V737.6H1415V737.0H1416V737.5H1417V736.5H1418V735.6H1419V736.7H1420V737.6H1421V737.9H1422V737.2H1423V736.8H1424V736.3H1425V737.1H1426V737.4H1427V737.4H1428V737.1H1429V737.1H1430V737.0H1431V735.8H1432V736.9H1433V736.2H1434V736.5H1435V737.1H1436V738.0H1437V737.1H1438V738.2H1439V737.1H1440V737.5H1441V737.1H1442V737.1H1443V737.5H1444V737.4H1445V737.9H1446V738.1H1447V738.2H1448V738.0H1449V738.5H1450V738.4H1451V739.5Z" fill="#4fbbfc" shape-rendering="crispEdges"/>
<path class="dt" d="M1087.57 454.6V739.5"/>
<path class="dt" d="M1372.21 481.58V739.5"/>
<path class="ds" d="M1186.84 453V739.5"/>
<path class="ds" d="M1314.94 453V739.5"/>
<path class="ln" d="M1250.35 449.2V739.5"/>
<rect x="1301.3" y="454.5" width="146.2" height="28.4" fill="#fff"/>
<rect class="ax" x="1045.2" y="449.2" width="406.5" height="290.3"/>
<path class="ax" d="M1045.2 739.5v6.3M1067.78 739.5v3.1M1090.37 739.5v6.3M1112.95 739.5v3.1M1135.53 739.5v6.3M1158.12 739.5v3.1M1180.7 739.5v6.3M1203.28 739.5v3.1M1225.87 739.5v6.3M1248.45 739.5v3.1M1271.03 739.5v6.3M1293.62 739.5v3.1M1316.2 739.5v6.3M1338.78 739.5v3.1M1361.37 739.5v6.3M1383.95 739.5v3.1M1406.53 739.5v6.3M1429.12 739.5v3.1M1451.7 739.5v6.3M1045.2 739.5h-6.3M1045.2 691.12h-3.1M1045.2 642.73h-6.3M1045.2 594.35h-3.1M1045.2 545.97h-6.3M1045.2 497.58h-3.1M1045.2 449.2h-6.3"/>
<text class="tk" transform="translate(1045.4 762.6) scale(1.01 1)" text-anchor="middle">0</text>
<text class="tk" transform="translate(1090.57 762.6) scale(1.01 1)" text-anchor="middle">50</text>
<text class="tk" transform="translate(1135.73 762.6) scale(1.01 1)" text-anchor="middle">100</text>
<text class="tk" transform="translate(1180.9 762.6) scale(1.01 1)" text-anchor="middle">150</text>
<text class="tk" transform="translate(1226.07 762.6) scale(1.01 1)" text-anchor="middle">200</text>
<text class="tk" transform="translate(1271.23 762.6) scale(1.01 1)" text-anchor="middle">250</text>
<text class="tk" transform="translate(1316.4 762.6) scale(1.01 1)" text-anchor="middle">300</text>
<text class="tk" transform="translate(1361.57 762.6) scale(1.01 1)" text-anchor="middle">350</text>
<text class="tk" transform="translate(1406.73 762.6) scale(1.01 1)" text-anchor="middle">400</text>
<text class="tk" transform="translate(1451.9 762.6) scale(1.01 1)" text-anchor="middle">450</text>
<text class="tk" transform="translate(1033.6 743.3) scale(1.02 1)" text-anchor="end">0</text>
<text class="tk" transform="translate(1033.6 646.53) scale(1.02 1)" text-anchor="end">500</text>
<text class="tk" transform="translate(1033.6 549.77) scale(1.02 1)" text-anchor="end">1000</text>
<text class="tk" transform="translate(1033.6 453) scale(1.02 1)" text-anchor="end">1500</text>
<text class="al" transform="translate(1248.25 788.6) scale(1.005 1)" text-anchor="middle"><tspan font-style="italic">AWSS</tspan><tspan font-style="italic" font-size="13.7" dy="5">prox</tspan><tspan dy="-5"> [dynes/cm</tspan><tspan font-size="12.9" dy="-8">2</tspan><tspan dy="8">]</tspan></text>
<text class="mi" font-size="22" x="1245.45" y="440.2">μ</text>
<text class="mr" font-size="27.3" x="1301.6" y="476.3">(</text>
<text class="mi" font-size="21.7" x="1312.37" y="476.3">p</text>
<text class="mr" font-size="21.7" transform="translate(1328.69 476.3) scale(1.21 1)">=</text>
<text class="mr" font-size="20.8" x="1350.39" y="476.3">4</text>
<text class="mr" font-size="20.8" x="1360.31" y="476.3">,</text>
<text class="mi" font-size="21.7" x="1368.63" y="476.3">n</text>
<text class="mi" font-size="16.8" x="1382.48" y="479.7">ps</text>
<text class="mr" font-size="21.7" transform="translate(1404.48 476.3) scale(1.22 1)">=</text>
<text class="mr" font-size="20.8" x="1426.57" y="476.3">1</text>
<text class="mr" font-size="27.3" x="1437.52" y="476.3">)</text>
</g>
<g>
<path d="M1558 739.5V739.5H1559V739.3H1560V739.4H1561V739.3H1562V739.5H1563V739.2H1564V739.3H1565V739.3H1566V739.4H1567V739.2H1568V739.3H1569V739.0H1570V739.1H1571V739.2H1572V739.3H1573V739.4H1574V739.3H1575V738.9H1576V739.2H1577V739.5H1578V739.1H1579V739.4H1580V739.4H1581V739.2H1582V739.3H1583V739.0H1584V739.2H1585V739.3H1586V738.9H1587V739.1H1588V739.0H1589V738.5H1590V738.9H1591V738.6H1592V739.0H1593V738.7H1594V738.8H1595V738.4H1596V739.0H1597V738.6H1598V739.4H1599V739.0H1600V739.0H1601V738.5H1602V738.8H1603V739.3H1604V737.7H1605V738.7H1606V738.6H1607V737.2H1608V738.0H1609V737.7H1610V737.9H1611V737.6H1612V737.3H1613V737.9H1614V737.3H1615V737.8H1616V735.6H1617V736.0H1618V737.3H1619V737.7H1620V736.1H1621V735.9H1622V736.3H1623V735.8H1624V735.3H1625V735.2H1626V734.2H1627V734.1H1628V735.6H1629V734.6H1630V733.3H1631V735.2H1632V734.6H1633V733.6H1634V733.5H1635V734.0H1636V731.1H1637V733.2H1638V732.1H1639V732.0H1640V731.7H1641V729.6H1642V729.8H1643V728.9H1644V729.1H1645V726.0H1646V729.5H1647V724.8H1648V728.6H1649V727.7H1650V724.4H1651V725.5H1652V720.4H1653V725.7H1654V720.6H1655V722.4H1656V719.6H1657V717.0H1658V714.6H1659V714.4H1660V710.3H1661V714.5H1662V708.8H1663V707.9H1664V706.0H1665V704.2H1666V699.3H1667V699.0H1668V693.7H1669V692.3H1670V696.1H1671V690.3H1672V687.0H1673V686.5H1674V680.2H1675V678.9H1676V675.5H1677V678.8H1678V669.5H1679V667.3H1680V662.7H1681V655.4H1682V655.5H1683V655.6H1684V644.6H1685V640.9H1686V640.1H1687V637.3H1688V634.6H1689V623.5H1690V620.8H1691V620.3H1692V606.6H1693V608.4H1694V606.4H1695V602.1H1696V597.7H1697V600.0H1698V598.5H1699V598.7H1700V581.3H1701V574.6H1702V576.0H1703V572.3H1704V567.3H1705V556.0H1706V566.0H1707V563.4H1708V560.2H1709V551.9H1710V556.0H1711V554.1H1712V550.6H1713V549.9H1714V549.0H1715V547.4H1716V542.2H1717V549.2H1718V549.8H1719V543.3H1720V541.5H1721V541.8H1722V543.2H1723V544.7H1724V548.9H1725V538.8H1726V549.7H1727V552.6H1728V545.1H1729V548.7H1730V549.0H1731V556.2H1732V559.0H1733V555.4H1734V559.4H1735V563.9H1736V561.7H1737V565.6H1738V563.5H1739V562.1H1740V569.0H1741V570.5H1742V569.5H1743V575.8H1744V579.4H1745V589.4H1746V577.1H1747V587.7H1748V590.6H1749V586.6H1750V588.1H1751V598.7H1752V595.8H1753V607.4H1754V592.0H1755V598.0H1756V600.7H1757V605.2H1758V614.2H1759V605.1H1760V616.2H1761V613.4H1762V621.6H1763V624.9H1764V620.8H1765V625.8H1766V635.4H1767V627.9H1768V636.2H1769V634.6H1770V637.5H1771V641.2H1772V639.8H1773V647.4H1774V651.7H1775V652.2H1776V656.0H1777V655.9H1778V662.7H1779V662.3H1780V670.3H1781V664.1H1782V666.5H1783V673.2H1784V669.7H1785V682.7H1786V680.5H1787V675.8H1788V684.6H1789V685.5H1790V683.7H1791V690.2H1792V692.8H1793V691.7H1794V694.2H1795V699.5H1796V702.2H1797V700.7H1798V698.0H1799V702.6H1800V702.9H1801V706.9H1802V706.8H1803V707.8H1804V711.9H1805V710.3H1806V713.1H1807V713.7H1808V717.9H1809V715.3H1810V719.4H1811V722.6H1812V720.1H1813V722.5H1814V720.4H1815V722.5H1816V725.3H1817V726.8H1818V728.8H1819V727.5H1820V728.1H1821V730.5H1822V731.4H1823V729.4H1824V731.0H1825V732.0H1826V731.6H1827V731.4H1828V731.2H1829V730.6H1830V730.8H1831V734.8H1832V734.5H1833V734.4H1834V734.2H1835V734.0H1836V735.0H1837V733.6H1838V736.1H1839V734.0H1840V735.5H1841V735.4H1842V736.3H1843V736.4H1844V737.1H1845V737.5H1846V736.7H1847V736.7H1848V736.1H1849V737.9H1850V738.6H1851V737.3H1852V737.8H1853V737.9H1854V738.8H1855V738.0H1856V738.2H1857V738.5H1858V738.9H1859V738.5H1860V738.6H1861V739.2H1862V738.6H1863V738.9H1864V739.1H1865V738.9H1866V738.9H1867V739.3H1868V739.2H1869V739.5H1870V739.3H1871V739.5H1872V739.3H1873V739.4H1874V739.5H1875V739.4H1876V739.3H1877V739.1H1878V739.5H1879V739.3H1880V739.2H1881V739.4H1882V739.4H1883V739.5H1884V739.4H1885V739.5H1886V739.4H1887V739.4H1888V739.5H1889V739.4H1890V739.5H1891V739.5H1892V739.5H1893V739.5H1894V739.5H1895V739.5H1896V739.5H1897V739.5H1898V739.5H1899V739.5H1900V739.5H1901V739.5H1902V739.5H1903V739.5H1904V739.5H1905V739.5H1906V739.5H1907V739.5H1908V739.5H1909V739.5H1910V739.5H1911V739.5H1912V739.5H1913V739.5H1914V739.5H1915V739.5H1916V739.5H1917V739.5H1918V739.5H1919V739.5H1920V739.5H1921V739.5H1922V739.5H1923V739.5H1924V739.5H1925V739.5H1926V739.5H1927V739.5H1928V739.5H1929V739.5H1930V739.5H1931V739.5H1932V739.5H1933V739.5H1934V739.5H1935V739.5H1936V739.5H1937V739.5Z" fill="#4fbbfc" shape-rendering="crispEdges"/>
<path class="dt" d="M1655.09 454.6V739.5"/>
<path class="dt" d="M1811.91 481.58V739.5"/>
<path class="ds" d="M1692.22 453V739.5"/>
<path class="ds" d="M1769.36 453V739.5"/>
<path class="ln" d="M1730.97 449.2V739.5"/>
<rect x="1786.8" y="454.5" width="146.2" height="28.4" fill="#fff"/>
<rect class="ax" x="1530.7" y="449.2" width="406.5" height="290.3"/>
<path class="ax" d="M1530.7 739.5v6.3M1553.28 739.5v3.1M1575.87 739.5v6.3M1598.45 739.5v3.1M1621.03 739.5v6.3M1643.62 739.5v3.1M1666.2 739.5v6.3M1688.78 739.5v3.1M1711.37 739.5v6.3M1733.95 739.5v3.1M1756.53 739.5v6.3M1779.12 739.5v3.1M1801.7 739.5v6.3M1824.28 739.5v3.1M1846.87 739.5v6.3M1869.45 739.5v3.1M1892.03 739.5v6.3M1914.62 739.5v3.1M1937.2 739.5v6.3M1530.7 739.5h-6.3M1530.7 691.12h-3.1M1530.7 642.73h-6.3M1530.7 594.35h-3.1M1530.7 545.97h-6.3M1530.7 497.58h-3.1M1530.7 449.2h-6.3"/>
<text class="tk" transform="translate(1530.9 762.6) scale(1.01 1)" text-anchor="middle">0</text>
<text class="tk" transform="translate(1576.07 762.6) scale(1.01 1)" text-anchor="middle">50</text>
<text class="tk" transform="translate(1621.23 762.6) scale(1.01 1)" text-anchor="middle">100</text>
<text class="tk" transform="translate(1666.4 762.6) scale(1.01 1)" text-anchor="middle">150</text>
<text class="tk" transform="translate(1711.57 762.6) scale(1.01 1)" text-anchor="middle">200</text>
<text class="tk" transform="translate(1756.73 762.6) scale(1.01 1)" text-anchor="middle">250</text>
<text class="tk" transform="translate(1801.9 762.6) scale(1.01 1)" text-anchor="middle">300</text>
<text class="tk" transform="translate(1847.07 762.6) scale(1.01 1)" text-anchor="middle">350</text>
<text class="tk" transform="translate(1892.23 762.6) scale(1.01 1)" text-anchor="middle">400</text>
<text class="tk" transform="translate(1937.4 762.6) scale(1.01 1)" text-anchor="middle">450</text>
<text class="tk" transform="translate(1519.1 743.3) scale(1.02 1)" text-anchor="end">0</text>
<text class="tk" transform="translate(1519.1 646.53) scale(1.02 1)" text-anchor="end">500</text>
<text class="tk" transform="translate(1519.1 549.77) scale(1.02 1)" text-anchor="end">1000</text>
<text class="tk" transform="translate(1519.1 453) scale(1.02 1)" text-anchor="end">1500</text>
<text class="al" transform="translate(1733.75 788.6) scale(1.005 1)" text-anchor="middle"><tspan font-style="italic">AWSS</tspan><tspan font-style="italic" font-size="13.7" dy="5">prox</tspan><tspan dy="-5"> [dynes/cm</tspan><tspan font-size="12.9" dy="-8">2</tspan><tspan dy="8">]</tspan></text>
<text class="mi" font-size="22" x="1724.75" y="440.2">μ</text>
<text class="mr" font-size="27.3" x="1787.1" y="476.3">(</text>
<text class="mi" font-size="21.7" x="1797.87" y="476.3">p</text>
<text class="mr" font-size="21.7" transform="translate(1814.19 476.3) scale(1.21 1)">=</text>
<text class="mr" font-size="20.8" x="1835.89" y="476.3">4</text>
<text class="mr" font-size="20.8" x="1845.81" y="476.3">,</text>
<text class="mi" font-size="21.7" x="1854.13" y="476.3">n</text>
<text class="mi" font-size="16.8" x="1867.98" y="479.7">ps</text>
<text class="mr" font-size="21.7" transform="translate(1889.98 476.3) scale(1.22 1)">=</text>
<text class="mr" font-size="20.8" x="1911.99" y="476.3">2</text>
<text class="mr" font-size="27.3" x="1923.02" y="476.3">)</text>
</g>
</svg></body></html>
